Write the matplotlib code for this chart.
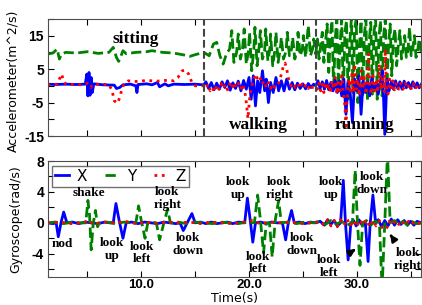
"""Accelerometer / gyroscope traces for head gestures and activities."""
import matplotlib
matplotlib.use("Agg")
import matplotlib.pyplot as plt
from matplotlib.ticker import FixedLocator, FixedFormatter

# ---- accelerometer (m^2/s) ----
acc_x_t = [1.3, 2.0, 3.0, 4.0, 4.8, 4.95, 5.05, 5.15, 5.25, 5.35, 5.45, 5.6, 6.5, 7.5, 7.7, 8.0,
           8.3, 9.0, 9.5, 9.6, 9.7, 10.5, 11.0, 11.5, 11.7, 12.2, 12.5, 13.0, 14.0, 15.0, 15.8,
           16.0, 16.25, 16.5, 16.75, 17.0, 17.25, 17.5, 17.75, 18.0, 18.25, 18.5, 18.75, 19.0,
           19.25, 19.5, 19.75, 20.0, 20.2, 20.4, 20.6, 20.8, 21.0, 21.25, 21.45, 21.6, 21.8, 22.0,
           22.25, 22.5, 22.75, 23.0, 23.25, 23.5, 23.75, 24.0, 24.25, 24.5, 24.75, 25.0, 25.25,
           25.5, 25.75, 26.0, 26.2, 26.4, 26.6, 26.8, 27.0, 27.2, 27.4, 27.6, 27.8, 28.0, 28.2,
           28.4, 28.6, 28.8, 29.0, 29.2, 29.4, 29.6, 29.8, 30.0, 30.2, 30.4, 30.6, 30.8, 31.0,
           31.2, 31.4, 31.6, 31.8, 32.0, 32.2, 32.4, 32.6, 32.8, 33.0, 33.2, 33.4, 33.6, 33.8,
           34.0, 34.2, 34.4, 34.6, 34.8, 35.0, 35.2, 35.4, 35.6, 35.8, 36.0]
acc_x = [0.5, 0.4, 0.5, 0.4, 0.5, 3.5, -3.0, 4.0, -2.8, 2.5, -2.0, 0.6, 0.3, 0.2, -0.8, -0.5,
         0.3, 0.5, 0.0, -2.0, 0.4, 0.6, 0.3, 1.0, -0.3, 0.6, 0.0, 0.5, 0.4, 0.5, 0.3,
         1.2, -0.8, 1.0, -1.2, 0.8, -1.0, 1.2, -0.5, 1.5, -1.3, 0.9, -0.8, 1.4,
         -1.5, 1.6, -1.0, 2.5, -4.0, 3.0, -6.0, 1.5, -2.0, 4.5, -1.5, 2.0, -5.0, 1.0,
         -2.0, 2.5, -1.5, 1.5, -1.5, 2.0, -1.0, 1.0, -1.2, 0.8, -0.8, 0.6, -0.9,
         0.7, -0.5, 0.5, 0.0, 1.5, -0.8, 1.2, -1.0, 1.6, -1.2, 1.0, -1.5, 1.8, -2.0,
         1.5, -3.0, 2.0, -8.5, 1.5, -2.5, -11.0, 2.0, -1.5, 3.0, -8.5, 1.5, -2.0, 1.2,
         -3.0, 2.5, -1.5, 1.0, -2.5, 1.5, 4.5, -14.5, 2.0, -1.5, 1.2, -1.0, 1.5, -0.8,
         1.2, -1.0, 1.4, -0.6, 1.0, -0.8, 1.2, -0.5, 0.9, -0.6, 0.5]

acc_y_t = [1.3, 1.8, 2.2, 2.4, 2.6, 3.0, 4.0, 5.0, 6.0, 7.0, 7.4, 7.7, 7.9, 8.1, 8.3, 8.6, 9.5,
           10.5, 11.0, 12.0, 13.0, 14.0, 14.5, 15.0, 15.8, 16.3, 16.7, 17.0, 17.3, 17.6, 17.9,
           18.2, 18.4, 18.6, 18.85, 19.0, 19.2, 19.4, 19.55, 19.75, 19.95, 20.05, 20.25, 20.45,
           20.55, 20.75, 20.95, 21.05, 21.25, 21.45, 21.55, 21.75, 21.95, 22.0, 22.2, 22.4, 22.5,
           22.7, 22.9, 23.0, 23.2, 23.45, 23.55, 23.75, 23.95, 24.05, 24.25, 24.45, 24.55, 24.75,
           24.95, 25.05, 25.25, 25.5, 25.7, 25.9, 26.0, 26.2, 26.35, 26.5, 26.65, 26.8, 26.95,
           27.1, 27.25, 27.4, 27.55, 27.7, 27.85, 28.0, 28.15, 28.3, 28.45, 28.6, 28.75, 28.9,
           29.05, 29.2, 29.35, 29.5, 29.65, 29.8, 29.95, 30.1, 30.25, 30.4, 30.55, 30.7, 30.85,
           31.0, 31.15, 31.3, 31.45, 31.6, 31.75, 31.9, 32.05, 32.2, 32.35, 32.5, 32.65, 32.8,
           32.95, 33.1, 33.25, 33.4, 33.55, 33.7, 33.85, 34.0, 34.15, 34.3, 34.45, 34.6, 34.75,
           34.9, 35.05, 35.2, 35.35, 35.5, 35.65, 35.8, 36.0]
acc_y = [9.5, 9.8, 11.0, 8.0, 9.5, 10.0, 9.8, 10.2, 9.7, 10.0, 11.5, 8.5, 7.3, 8.8, 10.5, 9.6, 10.0,
         10.2, 10.5, 10.0, 9.8, 9.2, 8.8, 9.3, 10.0, 9.0, 12.5, 13.0, 9.0, 6.5, 9.5,
         11.0, 16.5, 7.0, 10.0, 15.5, 8.0, 11.0, 17.0, 6.5, 10.5, 16.0, 4.5, 11.0,
         17.5, 6.0, 12.0, 16.5, 8.0, 10.5, 17.0, 7.5, 11.5, 15.5, 6.0, 10.5, 16.0,
         7.0, 11.0, 14.5, 8.0, 10.5, 16.0, 9.0, 11.0, 14.5, 8.0, 10.5, 16.0, 9.0,
         11.0, 15.0, 8.5, 18.0, 9.0, 11.0, 14.0, 9.5, 14.0, 8.0, 12.0, 16.0, 7.0,
         13.0, 18.5, 4.0, 15.0, 19.5, -1.0, 14.0, 20.0, 0.0, 12.0, 20.0, -3.0, 16.0,
         19.5, -4.0, 13.0, 20.0, -2.0, 17.0, 20.0, -5.0, 12.0, 19.5, -3.0, 15.0, 20.0,
         -4.5, 13.0, 19.0, -2.5, 16.0, 20.0, -4.0, 14.0, 19.5, -3.0, 15.0, 20.0, 0.0,
         12.0, 18.5, 3.0, 14.0, 17.0, 6.0, 12.0, 16.5, 8.0, 11.0, 15.0, 8.5, 10.5,
         17.5, 9.0, 11.0, 15.0, 8.5, 10.5, 14.0, 9.5]

acc_z_t = [1.3, 2.2, 2.4, 2.6, 2.8, 3.0, 4.5, 5.0, 5.3, 5.5, 7.0, 7.3, 7.5, 7.8, 8.0, 8.2, 8.4,
           8.8, 9.5, 10.5, 11.5, 12.5, 13.0, 13.4, 13.8, 14.1, 14.4, 14.7, 15.0, 15.8,
           16.0, 16.2, 16.4, 16.6, 16.8, 17.0, 17.2, 17.4, 17.6, 17.8, 18.0, 18.2, 18.4, 18.6,
           18.8, 19.0, 19.2, 19.4, 19.6, 19.75, 19.9, 20.05, 20.2, 20.4, 20.6, 20.8, 21.0, 21.2,
           21.4, 21.6, 21.8, 22.0, 22.2, 22.4, 22.6, 22.8, 23.0, 23.2, 23.35, 23.5, 23.7, 23.9,
           24.1, 24.3, 24.5, 24.7, 24.9, 25.1, 25.3, 25.5, 25.7, 25.9, 26.2, 26.35, 26.5, 26.65,
           26.8, 26.95, 27.1, 27.25, 27.4, 27.55, 27.7, 27.85, 28.0, 28.15, 28.3, 28.45, 28.6,
           28.75, 28.9, 29.0, 29.1, 29.25, 29.4, 29.55, 29.7, 29.8, 29.95, 30.1, 30.25, 30.4,
           30.55, 30.7, 30.85, 31.0, 31.1, 31.2, 31.35, 31.5, 31.65, 31.8, 31.95, 32.1, 32.25,
           32.4, 32.55, 32.65, 32.75, 32.9, 33.05, 33.2, 33.35, 33.5, 33.7, 33.9, 34.1, 34.3,
           34.5, 34.7, 34.9, 35.1, 35.3, 35.5, 35.7, 36.0]
acc_z = [0.3, 0.5, 2.0, 3.5, 1.5, 0.5, 0.3, 0.8, -0.5, 0.5, 0.4, -1.5, -4.5, -5.2, -3.5, -1.0, 0.5,
         1.5, 1.3, 1.6, 1.4, 1.7, 1.5, 2.5, 4.5, 4.7, 3.5, 1.0, 0.0, 0.0,
         -0.8, 0.5, -1.5, -0.5, -1.8, 0.2, -1.0, 0.8, -0.8, 0.5, -1.2, 0.6, -0.8, 1.0,
         -0.5, 0.8, -1.0, 0.5, -1.5, -5.0, -9.8, -4.0, -0.5, 1.5, 3.5, 2.0, 2.8, 0.5,
         1.5, -0.5, 1.0, -0.8, 0.6, -0.5, 0.5, 1.0, 3.5, 6.0, 6.8, 5.0, 1.5, 0.0,
         0.8, -0.5, 0.6, -0.8, 0.5, -0.6, 0.4, -0.8, 0.5, -0.5, 0.0, -1.0, 0.8, -1.5,
         0.5, -2.0, 1.0, -1.2, 0.6, -2.2, 1.5, -1.0, 2.5, -2.5, 1.0, -1.5, 3.0,
         -2.0, -6.0, -13.0, -4.0, 2.0, -1.5, 3.5, -2.0, 6.5, -1.0, 2.0, -3.0, 4.5,
         -1.0, 2.5, -2.5, 3.0, 9.5, 0.0, -2.5, 3.0, -1.5, 2.0, -2.0, 6.5, -1.0,
         3.0, -2.0, 11.0, 0.0, -2.5, 2.0, -1.5, 1.5, -1.2, 1.0, -1.0, 0.8, -1.0,
         0.9, -0.8, 0.6, -1.2, 0.8, -0.6, 0.7, -0.5]

# ---- gyroscope (rad/s) ----
gyr_x_t = [1.3, 1.8, 2.1, 2.3, 2.55, 2.8, 3.1, 3.6, 4.2, 4.8, 5.4, 6.0, 6.6, 7.1, 7.4, 7.65, 7.95,
           8.3, 8.6, 9.1, 9.7, 10.3, 10.9, 11.5, 12.1, 12.7, 13.2, 13.6, 13.9, 14.3, 14.7, 15.0,
           15.5, 16.0, 16.5, 17.0, 17.5, 18.0, 18.5, 19.0, 19.6, 19.85, 20.1, 20.35, 20.6, 21.1,
           21.6, 22.1, 22.6, 23.1, 23.4, 23.65, 23.95, 24.2, 24.7, 25.2, 25.7, 26.2, 26.6, 27.0,
           27.3, 27.6, 27.9, 28.2, 28.5, 28.75, 28.95, 29.2, 29.45, 29.7, 29.95, 30.2, 30.5,
           30.8, 31.05, 31.25, 31.5, 31.75, 32.0, 32.3, 32.6, 32.9, 33.2, 33.5, 33.8, 34.1,
           34.4, 34.7, 35.0, 35.3, 35.6, 36.0]
gyr_x = [0.0, -0.1, 0.0, -1.8, 0.0, 1.4, 0.0, 0.1, -0.1, 0.1, 0.0, -0.1, 0.1, 0.0, 0.0, 2.5, 0.3,
         -2.0, 0.0, 0.1, -0.1, 0.1, 0.0, -0.1, 0.1, 0.0, -0.1, 0.0, -1.0, 0.1, 1.2, 0.0,
         0.1, -0.1, 0.1, -0.1, 0.0, 0.1, -0.1, 0.1, 0.0, 3.2, 0.5, -2.5, 0.0, 0.1,
         -0.1, 0.1, 0.0, 0.0, -2.2, 0.0, 1.6, 0.0, 0.1, -0.1, 0.1, 0.0, 0.2, -0.3,
         0.4, -0.2, 0.3, -0.4, 0.0, 5.5, 0.0, -4.8, 0.0, 0.3, -0.4, 0.4, -0.3,
         0.0, -5.0, 0.0, 3.6, 0.0, 0.4, -0.5, 0.3, -0.4, 0.5, -0.3, 0.4, -0.2,
         0.3, -0.3, 0.2, -0.3, 0.2, 0.0]

gyr_y_t = [1.3, 2.0, 2.8, 3.6, 4.4, 4.85, 5.05, 5.2, 5.35, 5.55, 5.75, 5.95, 6.1, 6.8, 7.6, 8.4,
           9.2, 9.5, 9.75, 10.0, 10.35, 10.6, 11.0, 11.4, 11.7, 12.1, 12.45, 12.7, 13.4, 14.2,
           15.0, 15.8, 16.6, 17.4, 18.2, 19.0, 19.8, 20.5, 20.8, 21.05, 21.35, 21.6, 21.9, 22.15,
           22.45, 22.75, 23.0, 23.6, 24.4, 25.2, 26.0, 26.6, 27.1, 27.6, 28.1, 28.6, 29.1, 29.6,
           29.85, 30.05, 30.3, 30.55, 30.9, 31.3, 31.7, 32.1, 32.35, 32.6, 32.85, 33.1, 33.5,
           33.9, 34.3, 34.7, 35.1, 35.5, 36.0]
gyr_y = [0.0, 0.1, -0.1, 0.1, 0.0, 0.0, 2.9, 1.0, -3.5, 0.0, 1.6, -0.5, 0.0, 0.1, -0.1, 0.1,
         0.0, 0.0, 2.2, 0.3, -2.0, 0.0, 0.1, 0.0, -2.2, 0.0, 1.8, 0.0, 0.1, -0.1,
         0.1, 0.0, -0.1, 0.1, 0.0, -0.1, 0.1, 0.0, 3.6, 0.5, -3.9, 0.0, 0.0, -4.4,
         0.5, 2.9, 0.0, 0.1, -0.1, 0.1, 0.0, 0.2, -0.2, 0.3, -0.2, 0.2, -0.3, 0.0,
         6.8, 0.5, -5.5, 0.0, 0.3, -0.3, 0.2, 0.0, -8.5, 0.0, 9.0, 0.0, 0.3,
         -0.2, 0.2, -0.3, 0.2, -0.1, 0.0]

gyr_z_t = [1.3, 2.5, 3.5, 4.5, 5.2, 5.5, 6.5, 7.5, 8.5, 9.5, 10.5, 11.5, 12.5, 13.5, 14.5, 15.5,
           16.5, 17.5, 18.5, 19.5, 20.3, 21.0, 22.0, 23.0, 24.0, 25.0, 26.0, 26.5, 27.0, 27.3,
           27.6, 27.9, 28.2, 28.5, 28.8, 29.1, 29.4, 29.7, 30.0, 30.3, 30.6, 30.9, 31.2, 31.5,
           31.8, 32.1, 32.4, 32.6, 32.8, 33.0, 33.3, 33.6, 33.9, 34.2, 34.5, 34.8, 35.1, 35.4,
           35.7, 36.0]
gyr_z = [0.0, 0.1, -0.1, 0.0, 0.3, -0.2, 0.1, 0.0, 0.2, -0.1, 0.1, -0.1, 0.1, 0.0, 0.1, -0.1,
         0.1, 0.0, -0.1, 0.1, 0.3, -0.1, 0.1, 0.0, 0.1, -0.1, 0.0, 0.2, -0.3, 0.4,
         -0.4, 0.3, -0.5, 0.4, -0.3, 0.5, -0.4, 0.3, -0.5, 0.4, -0.3, 0.4, -0.5, 0.3,
         -0.4, 0.3, -0.7, -0.9, -0.6, 0.2, -0.3, 0.3, -0.2, 0.3, -0.3, 0.2, -0.2, 0.2,
         -0.1, 0.0]

activities = ["sitting", "walking", "running"]
activity_pos = [(9.5, 14.1), (20.9, -11.7), (30.7, -11.7)]
boundaries = [15.83, 26.2]

gestures = ["nod", "shake", "look\nup", "look\nleft", "look\nright", "look\ndown",
            "look\nup", "look\nleft", "look\nright", "look\ndown", "look\nup", "look\ndown"]
gesture_pos = [(2.7, -2.75), (5.1, 3.85), (7.3, -3.5), (10.1, -3.9), (12.4, 3.2), (14.3, -2.75),
               (19.0, 4.5), (20.8, -5.2), (22.8, 4.5), (24.9, -2.75), (27.6, 4.5), (31.4, 5.1)]
# labels with arrows: text position, arrow tip
arrow_labels = ["look\nleft", "look\nright"]
arrow_text = [(27.4, -5.6), (34.75, -4.8)]
arrow_tip = [(29.9, -3.4), (33.1, -1.5)]

c_x, c_y, c_z = "#0000ff", "#008000", "#ff0000"
lw = 2.0
serif = dict(family="Liberation Serif", fontweight="bold")
ytick_font = dict(family="Liberation Sans", weight="bold", size=10)
xtick_font = dict(family="Liberation Sans", weight="bold", size=9.5)

fig = plt.figure(figsize=(4.22, 3.05), dpi=100)
ax1 = fig.add_axes([0.1126, 0.554, 0.886, 0.384])
ax2 = fig.add_axes([0.1126, 0.092, 0.886, 0.380])

ax1.plot(acc_y_t, acc_y, color=c_y, ls="--", lw=lw)
ax1.plot(acc_x_t, acc_x, color=c_x, ls="-", lw=lw)
ax1.plot(acc_z_t, acc_z, color=c_z, ls=":", lw=lw)
for b in boundaries:
    ax1.axvline(b, color="#444444", ls="--", lw=1.5)
for name, (tx, ty) in zip(activities, activity_pos):
    ax1.text(tx, ty, name, ha="center", va="center", fontsize=12.5, zorder=10, **serif)

ax2.plot(gyr_x_t, gyr_x, color=c_x, ls="-", lw=lw, label="X")
ax2.plot(gyr_y_t, gyr_y, color=c_y, ls="--", lw=lw, label="Y")
ax2.plot(gyr_z_t, gyr_z, color=c_z, ls=":", lw=lw, label="Z")
for name, (tx, ty) in zip(gestures, gesture_pos):
    ax2.text(tx, ty, name, ha="center", va="center", fontsize=9.5, linespacing=1.1,
             zorder=10, **serif)
for name, (tx, ty), tip in zip(arrow_labels, arrow_text, arrow_tip):
    ax2.annotate(name, xy=tip, xytext=(tx, ty), ha="center", va="center", fontsize=9.5,
                 linespacing=1.1, zorder=10,
                 arrowprops=dict(arrowstyle="-|>", color="k", lw=1.8, shrinkA=8, shrinkB=0),
                 **serif)

leg = ax2.legend(loc="upper left", ncol=3, fontsize=11, handlelength=0.9,
                 columnspacing=1.2, handletextpad=0.5, borderpad=0.2,
                 fancybox=False, borderaxespad=0.3)
leg.get_frame().set_edgecolor("0.3")

for ax in (ax1, ax2):
    ax.set_xlim(1.3, 36)
    ax.xaxis.set_major_locator(FixedLocator([5, 10, 15, 20, 25, 30, 35]))
    ax.tick_params(direction="in", top=True, right=True, length=4, width=0.8, pad=2.5)
    ax.tick_params(axis="x", pad=1.5)
    for sp in ax.spines.values():
        sp.set_color("0.3")

ax1.set_ylim(-15, 20)
ax1.yaxis.set_major_locator(FixedLocator([-15, -10, -5, 0, 5, 10, 15, 20]))
ax1.yaxis.set_major_formatter(FixedFormatter(["-15", "", "-5", "", "5", "", "15", ""]))
ax1.set_xticklabels([])
ax1.set_ylabel("Accelerometer(m^2/s)", fontsize=9)
ax1.yaxis.set_label_coords(-0.076, 0.47)

ax2.set_ylim(-7, 8)
ax2.yaxis.set_major_locator(FixedLocator([-6, -4, -2, 0, 2, 4, 6, 8]))
ax2.yaxis.set_major_formatter(FixedFormatter(["", "-4", "", "0", "", "4", "", "8"]))
ax2.xaxis.set_major_formatter(FixedFormatter(["", "10.0", "", "20.0", "", "30.0", ""]))
ax2.set_ylabel("Gyroscope(rad/s)", fontsize=9)
ax2.yaxis.set_label_coords(-0.068, 0.5)
ax2.set_xlabel("Time(s)", fontsize=9)
ax2.xaxis.set_label_coords(0.5, -0.13)

for ax in (ax1, ax2):
    for lab in ax.get_yticklabels():
        lab.set_fontproperties(ytick_font)
    for lab in ax.get_xticklabels():
        lab.set_fontproperties(xtick_font)

fig.savefig("out.png", dpi=100)
